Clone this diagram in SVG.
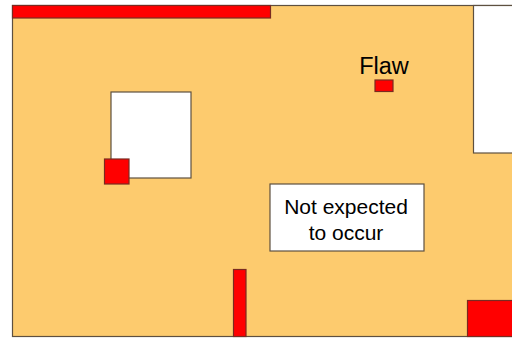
<svg xmlns="http://www.w3.org/2000/svg" width="512" height="338" viewBox="0 0 512 338">
<style>
.st{stroke:#5e5040;stroke-width:1.2}
.red{fill:#ff0000;stroke:#7a2a20;stroke-width:1.2}
.wh{fill:#ffffff}
text{font-family:"Liberation Sans",Arial,sans-serif;fill:#000}
</style>
<rect width="512" height="338" fill="#ffffff"/>
<g id="area">
<rect class="st" x="12.5" y="5.5" width="505" height="331" fill="#fdcb6e"/>
</g>
<g id="top-bar"><rect class="red" x="12.5" y="5.5" width="258" height="12.5"/></g>
<g id="right-white"><rect class="st wh" x="473.5" y="5.5" width="45" height="147.5"/></g>
<g id="white-square"><rect class="st wh" x="111" y="92" width="80" height="86"/></g>
<g id="red-square"><rect class="red" x="104.5" y="159" width="24.5" height="25"/></g>
<g id="flaw">
<text x="384" y="74" font-size="23.5" text-anchor="middle">Flaw</text>
<rect class="red" x="375" y="80" width="18" height="11.5"/>
</g>
<g id="label">
<rect class="st wh" x="270" y="184" width="154" height="67"/>
<text x="346" y="214" font-size="21" text-anchor="middle">Not expected</text>
<text x="346" y="240" font-size="21" text-anchor="middle">to occur</text>
</g>
<g id="vertical-bar"><rect class="red" x="233.5" y="269.5" width="12.5" height="67"/></g>
<g id="bottom-right"><rect class="red" x="467.5" y="300.5" width="50" height="36"/></g>
</svg>
